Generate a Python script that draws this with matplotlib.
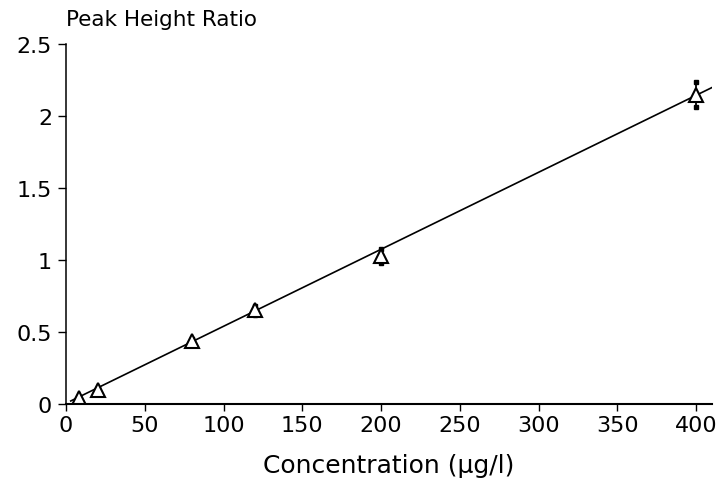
import numpy as np
import matplotlib.pyplot as plt

plt.rcParams['font.family'] = ['DejaVu Sans']

# calibration standards: concentration vs. mean peak height ratio
conc = [8, 20, 80, 120, 200, 400]
ratio = [0.04, 0.10, 0.44, 0.65, 1.03, 2.15]
ratio_err = [0.01, 0.01, 0.015, 0.03, 0.05, 0.085]

# regression line
slope = 0.00535
intercept = 0.005
line_x = [3, 410]

xticks = [0, 50, 100, 150, 200, 250, 300, 350, 400]
yticks = [0, 0.5, 1, 1.5, 2, 2.5]
ytick_labels = ['0', '0.5', '1', '1.5', '2', '2.5']

fig = plt.figure(figsize=(7.24, 4.81), dpi=100)
ax = fig.add_axes([0.0912, 0.158, 0.892, 0.748])

lx = np.array(line_x)
ax.plot(lx, intercept + slope * lx, color='black', linewidth=1.2)

ax.errorbar(conc, ratio, yerr=ratio_err, fmt='none', ecolor='black',
            elinewidth=1.3, capsize=0)
ax.plot(conc, np.array(ratio) + np.array(ratio_err), 's', color='black', markersize=3.5)
ax.plot(conc, np.array(ratio) - np.array(ratio_err), 's', color='black', markersize=3.5)
ax.plot(conc, ratio, '^', markerfacecolor='white', markeredgecolor='black',
        markersize=10.5, markeredgewidth=1.5)

ax.set_xlim(0, 410)
ax.set_ylim(0, 2.5)
ax.set_xticks(xticks)
ax.set_yticks(yticks)
ax.set_yticklabels(ytick_labels)
ax.spines['top'].set_visible(False)
ax.spines['right'].set_visible(False)
ax.spines['left'].set_linewidth(1.1)
ax.spines['bottom'].set_linewidth(1.5)
ax.tick_params(axis='y', direction='out', length=6, width=1, labelsize=16, pad=4)
ax.tick_params(axis='x', direction='out', length=5, width=1, labelsize=16, pad=3)

ax.set_xlabel('Concentration (µg/l)', fontsize=18)
ax.xaxis.set_label_coords(0.5, -0.137)
fig.text(0.0912, 0.937, 'Peak Height Ratio', fontsize=15.5, ha='left', va='bottom')

plt.savefig('out.png', dpi=100)
